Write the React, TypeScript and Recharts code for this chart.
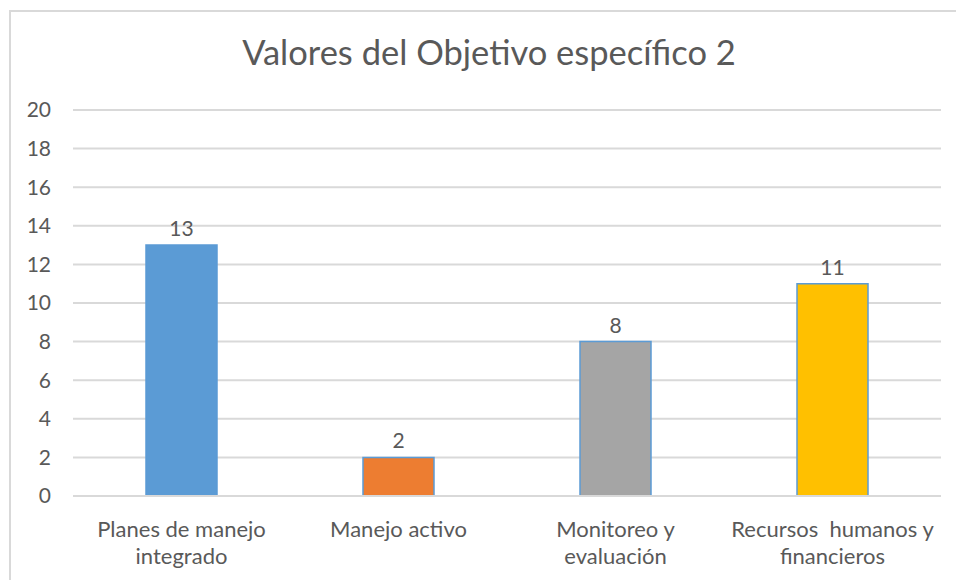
import React from "react";
import { BarChart, Bar, XAxis, YAxis, CartesianGrid, Cell, LabelList } from "recharts";

const categories = [
  "Planes de manejo\nintegrado",
  "Manejo activo",
  "Monitoreo y\nevaluación",
  "Recursos  humanos y\nfinancieros",
];
const values = [13, 2, 8, 11];
const colors = ["#5B9BD5", "#ED7D31", "#A5A5A5", "#FFC000"];
const yTicks = [0, 2, 4, 6, 8, 10, 12, 14, 16, 18, 20];
const title = "Valores del Objetivo específico 2";

const data = categories.map((c, i) => ({ name: c, value: values[i] }));

const FONT = "Lato, 'Open Sans', sans-serif";
const TEXT = "#595959";

const CategoryTick = (props: any) => {
  const { x, y, payload } = props;
  const lines = String(payload.value).split("\n");
  return (
    <g transform={`translate(${x},${y})`}>
      {lines.map((l: string, i: number) => (
        <text
          key={i}
          x={0}
          y={33 + i * 27}
          textAnchor="middle"
          fill={TEXT}
          fontSize={22}
          fontFamily={FONT}
          style={{ whiteSpace: "pre" }}
        >
          {l}
        </text>
      ))}
    </g>
  );
};

export default function App() {
  return (
    <div style={{ position: "absolute", left: 0, top: 0, width: 956, height: 580, background: "#fff", overflow: "hidden" }}>
      <div
        style={{
          position: "absolute",
          left: 9,
          top: 10,
          width: 1000,
          height: 700,
          borderTop: "2px solid #D9D9D9",
          borderLeft: "2px solid #D9D9D9",
          boxSizing: "border-box",
        }}
      />
      <div
        style={{
          position: "absolute",
          left: 11,
          top: 32,
          width: 956,
          textAlign: "center",
          fontFamily: FONT,
          fontSize: 34.5,
          color: TEXT,
          lineHeight: "40px",
          whiteSpace: "nowrap",
        }}
      >
        {title}
      </div>
      <div style={{ position: "absolute", left: 0, top: 0 }}>
        <BarChart width={956} height={580} data={data} margin={{ top: 110, right: 15, bottom: 0, left: 0 }} barCategoryGap={73}>
          <CartesianGrid vertical={false} stroke="#D9D9D9" strokeWidth={2} />
          <XAxis
            dataKey="name"
            axisLine={{ stroke: "#D9D9D9", strokeWidth: 2 }}
            tickLine={false}
            height={84}
            tick={<CategoryTick />}
            interval={0}
          />
          <YAxis
            width={73}
            domain={[0, 20]}
            ticks={yTicks}
            axisLine={false}
            tickLine={false}
            tickSize={0}
            tickMargin={22}
            tick={{ fill: TEXT, fontSize: 21, fontFamily: FONT }}
            interval={0}
          />
          <Bar dataKey="value" isAnimationActive={false} stroke="#5B9BD5" strokeWidth={1.5}>
            {data.map((d, i) => (
              <Cell key={i} fill={colors[i]} />
            ))}
            <LabelList dataKey="value" position="top" offset={9} fill={TEXT} fontSize={21} fontFamily={FONT} />
          </Bar>
        </BarChart>
      </div>
    </div>
  );
}
